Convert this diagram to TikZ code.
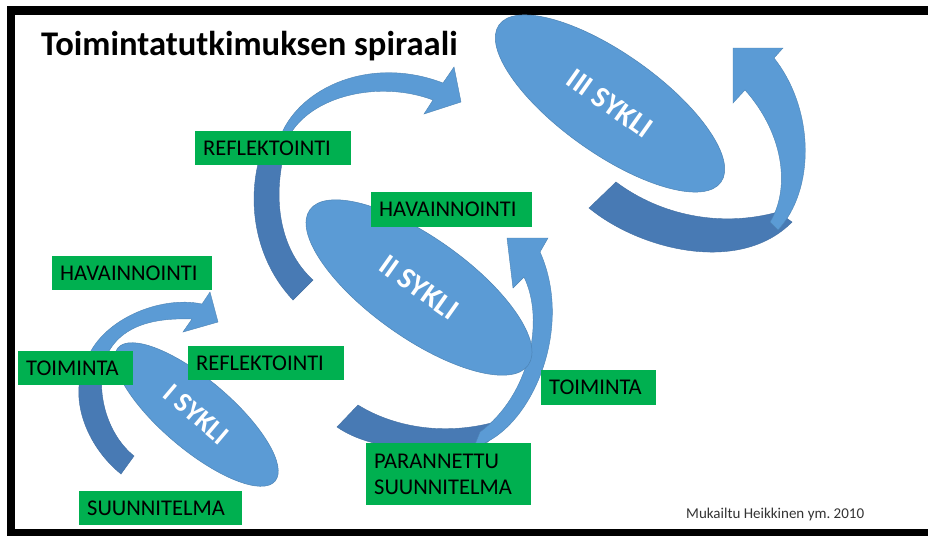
\documentclass[tikz,border=0pt]{standalone}
\usepackage{fontspec}
\setmainfont{Carlito}
\usetikzlibrary{shapes.geometric}
\definecolor{boxgreen}{RGB}{0,176,80}
\definecolor{cyclelight}{RGB}{91,155,213}
\definecolor{cycledark}{RGB}{72,122,180}
\begin{document}
\begin{tikzpicture}[x=1pt,y=-1pt,
    lbl/.style={fill=boxgreen, anchor=west, inner xsep=8pt, inner ysep=0pt,
      minimum height=34pt, align=left, font=\fontsize{22.5}{26}\selectfont},
    sykli/.style={ellipse, fill=cyclelight, draw=cyclelight!85!black, line width=0.5pt,
      text=white, inner sep=0pt, font=\bfseries\fontsize{30}{34}\selectfont},
    front/.style={fill=cyclelight, draw=cyclelight!85!black, line width=0.4pt},
    back/.style={fill=cycledark, draw=cycledark!90!black, line width=0.4pt}]
  \useasboundingbox (0,0) rectangle (928,536);
  \fill[black] (7,6) rectangle (928,536);
  \fill[white] (15,15) rectangle (928,529);

  \node[anchor=base west, inner sep=0pt, font=\bfseries\fontsize{34.6}{40}\selectfont]
    (title) at (41,55) {Toimintatutkimuksen spiraali};

  % first cycle
  \fill[back] (86,362) .. controls (68,395) and (85,445) .. (121,474)
    -- (134,456) .. controls (108,435) and (96,395) .. (104,362) -- cycle;
  \fill[front] (86,362) .. controls (100,320) and (160,295) .. (202,304)
    -- (210,292) -- (218,322) -- (183,332) -- (192,319)
    .. controls (160,318) and (118,322) .. (104,362) -- cycle;

  % second cycle
  \fill[back] (262,150) .. controls (245,200) and (255,260) .. (293,300)
    -- (313,280) .. controls (280,250) and (272,200) .. (285,150) -- cycle;
  \fill[front] (281,135) .. controls (300,88) and (370,55) .. (443,83)
    -- (454,67) -- (461,102) -- (424,114) -- (433,100)
    .. controls (380,80) and (310,95) .. (288,138) -- cycle;
  \fill[back] (337,427) .. controls (370,450) and (430,455) .. (488,442)
    -- (495,422) .. controls (440,437) and (390,425) .. (358,405) -- cycle;
  \fill[front] (474,447) .. controls (530,432) and (575,330) .. (540,252)
    -- (548,238) -- (507,238) -- (513,288) -- (524,277)
    .. controls (545,320) and (530,395) .. (480,432) -- cycle;

  % third cycle
  \fill[back] (589,208) .. controls (640,250) and (740,275) .. (792,222)
    -- (778,212) .. controls (720,228) and (660,215) .. (616,182) -- cycle;
  \fill[front] (778,230) .. controls (815,190) and (815,110) .. (774,58)
    -- (783,48) -- (733,48) -- (733,103) -- (745,90)
    .. controls (785,135) and (790,190) .. (770,222) -- cycle;

  \node[sykli, rotate=-40.3, minimum width=206pt, minimum height=70pt,
    font=\bfseries\fontsize{28}{32}\selectfont] (s1) at (196.5,414.5) {I SYKLI};
  \node[sykli, rotate=-35.4, minimum width=268pt, minimum height=100pt]
    (s2) at (419,287.5) {II SYKLI};
  \node[sykli, rotate=-35.3, minimum width=272pt, minimum height=100pt]
    (s3) at (610,103.5) {III SYKLI};

  \node[lbl, text width=144pt] (hav1) at (52,273) {HAVAINNOINTI};
  \node[lbl, text width=99pt] (toim1) at (18,368) {TOIMINTA};
  \node[lbl, text width=140pt] (refl1) at (188,363) {REFLEKTOINTI};
  \node[lbl, text width=147pt] (suun1) at (79,508) {SUUNNITELMA};
  \node[lbl, text width=140pt] (refl2) at (195,148) {REFLEKTOINTI};
  \node[lbl, text width=145pt, minimum height=35pt] (hav2) at (371,209.5) {HAVAINNOINTI};
  \node[lbl, text width=99pt, minimum height=35pt] (toim2) at (541,387.5) {TOIMINTA};
  \node[lbl, text width=149pt, minimum height=62pt] (suun2) at (366,474)
    {PARANNETTU\\SUUNNITELMA};

  \node[anchor=base west, inner sep=0pt, text=black!80, font=\fontsize{15}{18}\selectfont]
    (credit) at (686,518) {Mukailtu Heikkinen ym.\ 2010};
\end{tikzpicture}
\end{document}
